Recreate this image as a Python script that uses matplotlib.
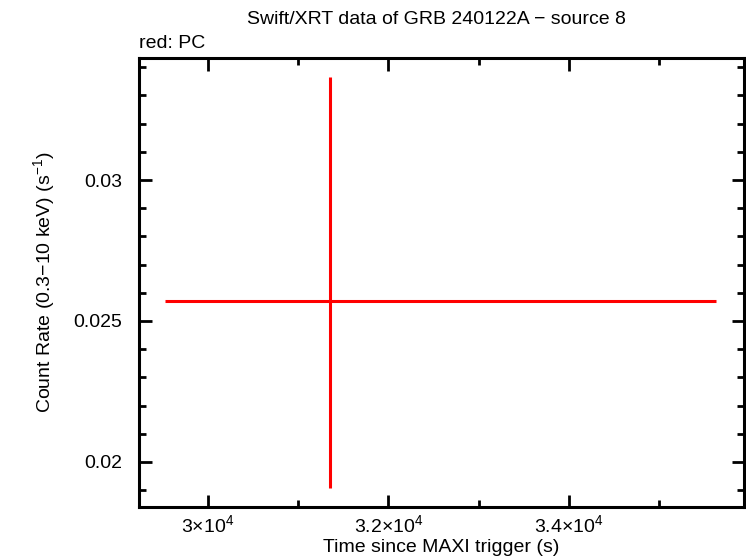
import numpy as np
import matplotlib
matplotlib.use('Agg')
import matplotlib.pyplot as plt
from matplotlib.ticker import FixedLocator, MultipleLocator

plt.rcParams['font.family'] = ['Liberation Sans', 'DejaVu Sans']
plt.rcParams['mathtext.fontset'] = 'custom'
plt.rcParams['mathtext.rm'] = 'Liberation Sans'
plt.rcParams['mathtext.it'] = 'Liberation Sans'

# PC mode point
t_mid = [31352]
t_lo = [29524]
t_hi = [35629]
rate = [0.02571]
rate_lo = [0.01908]
rate_hi = [0.03365]

x_ticks = [30000, 32000, 34000]
x_tick_labels = ['3×10$^{4}$', '3.2×10$^{4}$', '3.4×10$^{4}$']
y_ticks = [0.02, 0.025, 0.03]
y_tick_labels = ['0.02', '0.025', '0.03']


def main():
    fig = plt.figure(figsize=(7.46, 5.58), dpi=100)
    ax = fig.add_axes([139 / 746, 1 - 507 / 558, (744 - 139) / 746, (507 - 58) / 558])

    t_mid_a = np.array(t_mid)
    rate_a = np.array(rate)
    xerr = [t_mid_a - np.array(t_lo), np.array(t_hi) - t_mid_a]
    yerr = [rate_a - np.array(rate_lo), np.array(rate_hi) - rate_a]
    ax.errorbar(t_mid_a, rate_a, xerr=xerr, yerr=yerr, fmt='none',
                ecolor='#ff0000', elinewidth=2.2, capsize=0)

    ax.set_xlim(29236, 35939)
    ax.set_ylim(0.0184, 0.03433)

    ax.xaxis.set_major_locator(FixedLocator(x_ticks))
    ax.set_xticklabels(x_tick_labels)
    ax.xaxis.set_minor_locator(MultipleLocator(1000))
    ax.yaxis.set_major_locator(FixedLocator(y_ticks))
    ax.set_yticklabels(y_tick_labels)
    ax.yaxis.set_minor_locator(MultipleLocator(0.001))

    ax.tick_params(which='both', direction='in', top=True, right=True,
                   width=2, labelsize=14)
    ax.tick_params(axis='x', which='major', pad=5)
    ax.tick_params(axis='y', which='major', pad=12)
    ax.tick_params(which='major', length=9)
    ax.tick_params(which='minor', length=5)
    for s in ax.spines.values():
        s.set_linewidth(2.2)

    ax.set_xlabel('Time since MAXI trigger (s)', fontsize=14, labelpad=2)
    ax.set_ylabel('Count Rate (0.3\u221210 keV) (s$^{-1}$)', fontsize=14, labelpad=12)
    fig.text(436 / 746, 1 - 20 / 558, 'Swift/XRT data of GRB 240122A \u2212 source 8',
             ha='center', va='center', fontsize=14)
    fig.text(139 / 746, 1 - 43 / 558, 'red: PC', ha='left', va='center', fontsize=14)

    fig.savefig('out.png', dpi=100)


main()
